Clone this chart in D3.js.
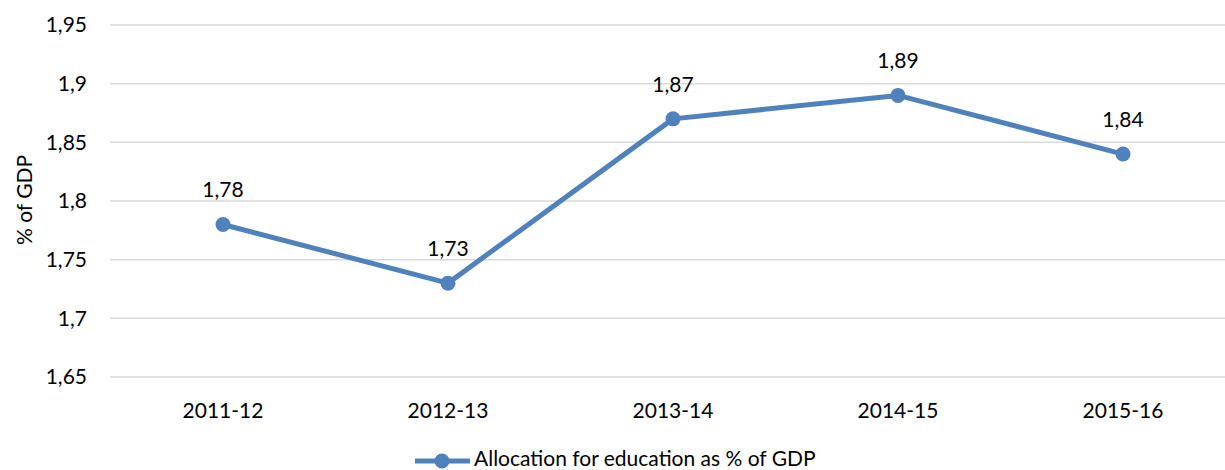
<!DOCTYPE html>
<html>
<head>
<meta charset="utf-8">
<script src="https://cdn.jsdelivr.net/npm/d3@7"></script>
<style>
  body { margin: 0; background: #fff; }
  text { font-family: Lato, "Open Sans", sans-serif; fill: #000; }
</style>
</head>
<body>
<div id="chart"></div>
<script>
const years = ["2011-12", "2012-13", "2013-14", "2014-15", "2015-16"];
const allocation = [1.78, 1.73, 1.87, 1.89, 1.84];
const yTicks = [1.65, 1.7, 1.75, 1.8, 1.85, 1.9, 1.95];
const seriesName = "Allocation for education as % of GDP";

const width = 1225;
const height = 470;
const color = "#4f81bd";
const fs = "21px";
const fmt = v => String(v).replace(".", ",");

const svg = d3.select("#chart").append("svg")
    .attr("width", width)
    .attr("height", height);

const x = d3.scaleBand()
    .domain(years)
    .range([110.5, 1235.5]);

const y = d3.scaleLinear()
    .domain([1.65, 1.95])
    .range([377, 25]);

// gridlines
svg.append("g")
    .selectAll("line")
    .data(yTicks)
    .enter()
    .append("line")
    .attr("x1", 110)
    .attr("x2", 1236)
    .attr("y1", d => y(d))
    .attr("y2", d => y(d))
    .attr("stroke", "#d9d9d9")
    .attr("stroke-width", 1.5);

// y tick labels
svg.append("g")
    .selectAll("text")
    .data(yTicks)
    .enter()
    .append("text")
    .attr("x", 87)
    .attr("y", d => y(d))
    .attr("dy", "0.35em")
    .attr("text-anchor", "end")
    .style("font-size", fs)
    .text(d => fmt(d));

// x labels
svg.append("g")
    .selectAll("text")
    .data(years)
    .enter()
    .append("text")
    .attr("x", d => x(d) + x.bandwidth() / 2)
    .attr("y", 418)
    .attr("text-anchor", "middle")
    .style("font-size", fs)
    .text(d => d);

// y axis title
svg.append("text")
    .attr("transform", "translate(32,200) rotate(-90)")
    .attr("text-anchor", "middle")
    .style("font-size", fs)
    .text("% of GDP");

const points = years.map((d, i) => ({ year: d, value: allocation[i] }));
const cx = d => x(d.year) + x.bandwidth() / 2;

const line = d3.line()
    .x(cx)
    .y(d => y(d.value));

svg.append("path")
    .datum(points)
    .attr("d", line)
    .attr("fill", "none")
    .attr("stroke", color)
    .attr("stroke-width", 5)
    .attr("stroke-linejoin", "round");

svg.append("g")
    .selectAll("circle")
    .data(points)
    .enter()
    .append("circle")
    .attr("cx", cx)
    .attr("cy", d => y(d.value))
    .attr("r", 7.5)
    .attr("fill", color);

// data labels
svg.append("g")
    .selectAll("text")
    .data(points)
    .enter()
    .append("text")
    .attr("x", cx)
    .attr("y", d => y(d.value) - 27)
    .attr("text-anchor", "middle")
    .style("font-size", fs)
    .text(d => fmt(d.value));

// legend
const legend = svg.append("g");
legend.append("line")
    .attr("x1", 415)
    .attr("x2", 470)
    .attr("y1", 461)
    .attr("y2", 461)
    .attr("stroke", color)
    .attr("stroke-width", 5);
legend.append("circle")
    .attr("cx", 442)
    .attr("cy", 461)
    .attr("r", 7.5)
    .attr("fill", color);
legend.append("text")
    .attr("x", 474)
    .attr("y", 459)
    .attr("dy", "0.35em")
    .style("font-size", fs)
    .text(seriesName);
</script>
</body>
</html>
